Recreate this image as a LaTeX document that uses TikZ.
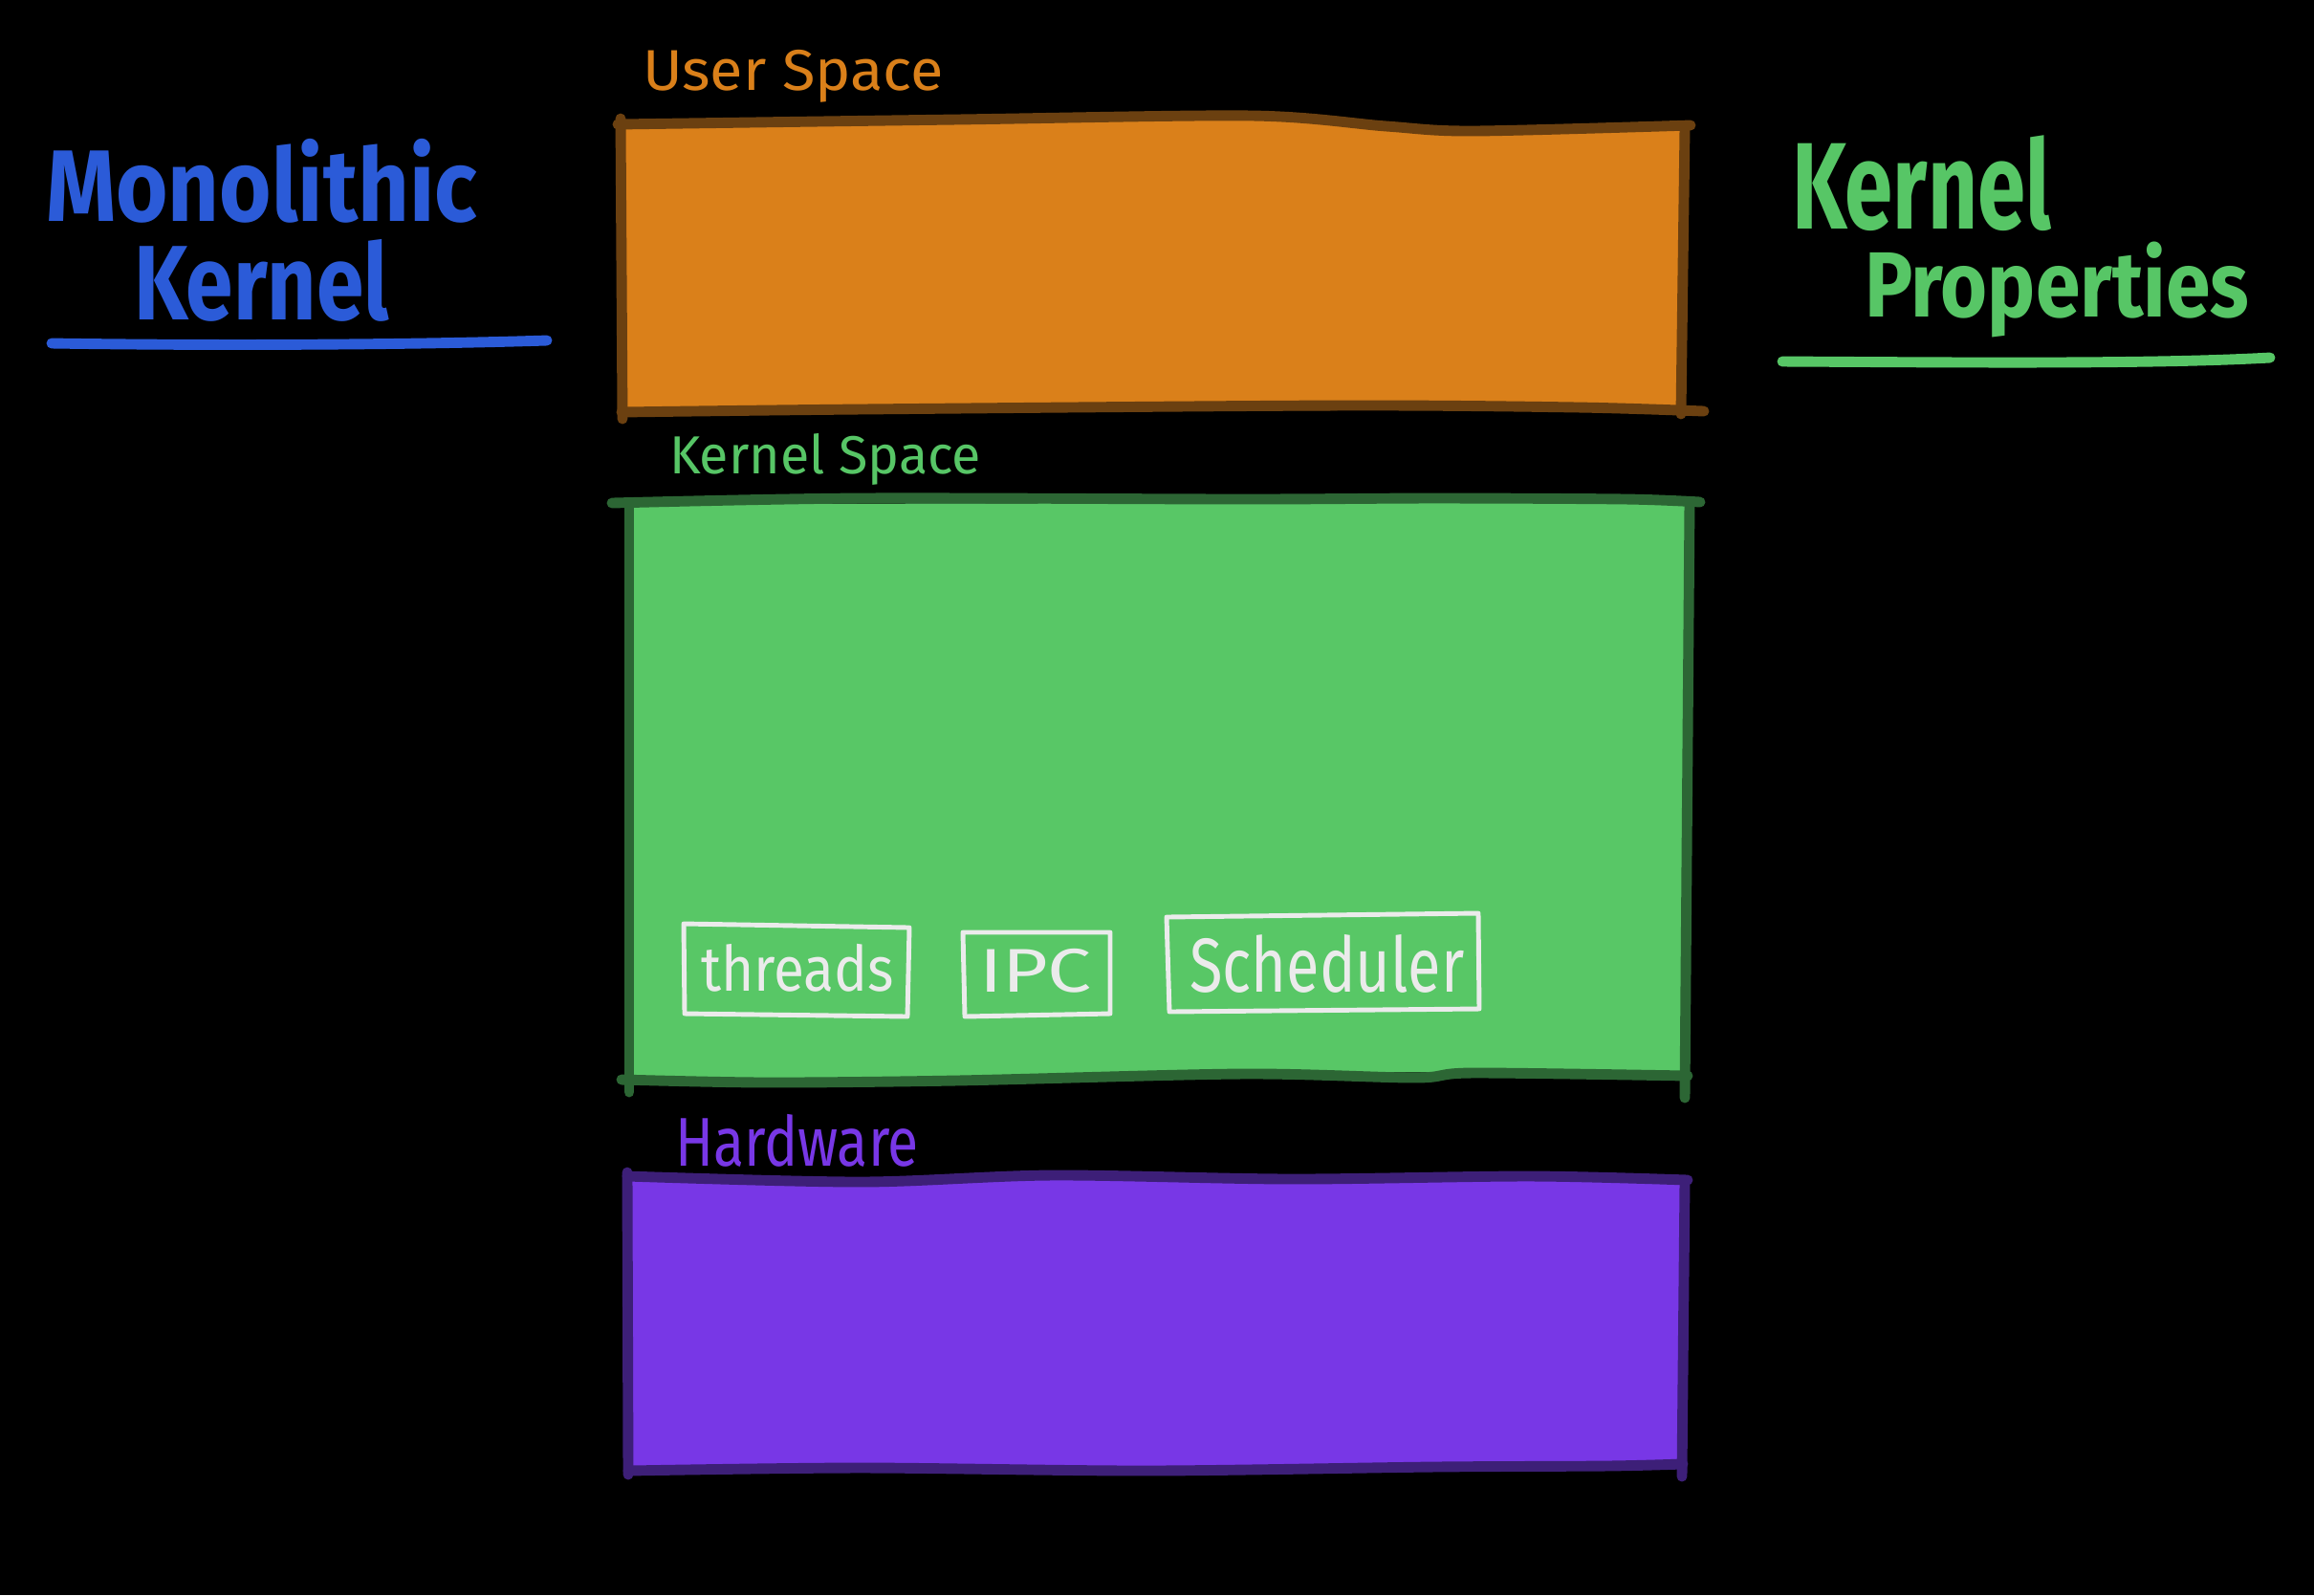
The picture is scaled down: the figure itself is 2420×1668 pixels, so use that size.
\documentclass[tikz,border=0pt]{standalone}
\usepackage{fontspec}
\usepackage{graphicx}
\setmainfont{Fira Sans}
\definecolor{bgblack}{HTML}{000000}
\definecolor{userfill}{HTML}{DA801A}
\definecolor{userline}{HTML}{6B4010}
\definecolor{kernfill}{HTML}{58C766}
\definecolor{kernline}{HTML}{2C6634}
\definecolor{hwfill}{HTML}{7837E6}
\definecolor{hwline}{HTML}{3D1F78}
\definecolor{titleblue}{HTML}{2B5BD8}
\definecolor{titlegreen}{HTML}{57C666}
\definecolor{chalk}{HTML}{EBEBEB}
% fit a text into a given width and total height (in px units of 0.01cm)
\newcommand{\fitto}[3]{\resizebox*{#1\dimexpr0.01cm\relax}{#2\dimexpr0.01cm\relax}{#3}}
\tikzset{
  lbl/.style={anchor=north west, inner sep=0pt, outer sep=0pt},
  edge/.style={line width=3.1pt, line cap=round, line join=round},
  chalkbox/.style={draw=chalk, line width=1.4pt, line join=round},
  uline/.style={line width=3.1pt, line cap=round},
}
\begin{document}
\begin{tikzpicture}[x=0.01cm, y=-0.01cm]
  % canvas
  \fill[bgblack] (0,0) rectangle (2420,1668);
  \useasboundingbox (0,0) rectangle (2420,1668);

  % ---------- User Space ----------
  \fill[userfill] (650,131) -- (1000,125) -- (1310,121) -- (1450,133) -- (1540,137) -- (1762,133) -- (1760,428) -- (652,431) -- cycle;
  \draw[edge, userline] plot[smooth] coordinates {(646,130) (1000,125) (1310,121) (1450,132) (1540,137) (1768,131)};
  \draw[edge, userline] (649,124) -- (651,438);
  \draw[edge, userline] (1762,134) -- (1758,433);
  \draw[edge, userline] plot[smooth] coordinates {(650,431) (900,428) (1400,424) (1650,426) (1782,430)};
  \node[lbl, text=userfill] (userlbl) at (672,52) {\fitto{315}{55}{User Space}};

  % ---------- Kernel Space ----------
  \fill[kernfill] (657,527) -- (1767,525) -- (1762,1125) -- (1560,1121) -- (1300,1122) -- (657,1130) -- cycle;
  \draw[edge, kernline] plot[smooth] coordinates {(640,526) (900,521) (1300,522) (1500,521) (1700,522) (1778,525)};
  \draw[edge, kernline] (658,530) -- (658,1142);
  \draw[edge, kernline] (1767,526) -- (1762,1148);
  \draw[edge, kernline] plot[smooth] coordinates {(650,1129) (800,1132) (1000,1130) (1300,1123) (1480,1127) (1540,1122) (1765,1125)};
  \node[lbl, text=titlegreen] (kernlbl) at (700,453) {\fitto{326}{54}{Kernel Space}};

  % kernel components
  \draw[chalkbox] (715,966) -- (951,970) -- (949,1063) -- (716,1060) -- cycle;
  \node[text=chalk, inner sep=0pt] (threads) at (834,1012) {\fitto{202}{50}{threads}};
  \draw[chalkbox] (1007,975) -- (1161,975) -- (1161,1060) -- (1009,1063) -- cycle;
  \node[text=chalk, inner sep=0pt] (ipc) at (1083,1015) {\fitto{118}{46}{IPC}};
  \draw[chalkbox] (1220,959) -- (1546,955) -- (1547,1055) -- (1223,1058) -- cycle;
  \node[text=chalk, inner sep=0pt] (sched) at (1388,1008) {\fitto{287}{61}{Scheduler}};

  % ---------- Hardware ----------
  \fill[hwfill] (657,1234) -- (1200,1229) -- (1762,1234) -- (1759,1533) -- (657,1537) -- cycle;
  \draw[edge, hwline] plot[smooth] coordinates {(656,1230) (900,1236) (1100,1229) (1350,1233) (1600,1230) (1765,1234)};
  \draw[edge, hwline] (656,1226) -- (657,1542);
  \draw[edge, hwline] (1762,1236) -- (1759,1544);
  \draw[edge, hwline] plot[smooth] coordinates {(657,1538) (900,1535) (1200,1538) (1500,1534) (1680,1533) (1760,1531)};
  \node[lbl, text=hwfill] (hwlbl) at (706,1165) {\fitto{255}{55}{Hardware}};

  % ---------- side titles ----------
  \node[lbl, text=titleblue] (mono) at (48,145) {\fitto{451}{88}{\bfseries Monolithic}};
  \node[lbl, text=titleblue] (monok) at (140,250) {\fitto{267}{86}{\bfseries Kernel}};
  \coordinate (ulA) at (54,359);
  \coordinate (ulB) at (572,356);
  \draw[uline, titleblue] (ulA) .. controls (250,362) and (450,360) .. (ulB);

  \node[lbl, text=titlegreen] (kprop) at (1874,142) {\fitto{271}{100}{\bfseries Kernel}};
  \node[lbl, text=titlegreen] (props) at (1950,253) {\fitto{402}{100}{\bfseries Properties}};
  \coordinate (ugA) at (1864,378);
  \coordinate (ugB) at (2374,374);
  \draw[uline, titlegreen] (ugA) .. controls (2050,379) and (2250,381) .. (ugB);
\end{tikzpicture}
\end{document}
